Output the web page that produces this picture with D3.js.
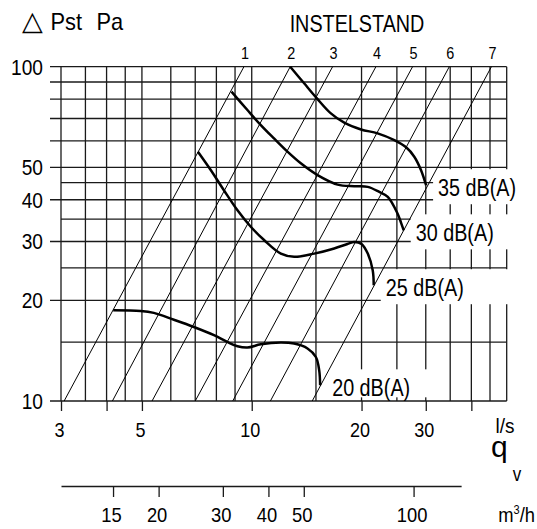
<!DOCTYPE html>
<html>
<head>
<meta charset="utf-8">
<script src="https://cdn.jsdelivr.net/npm/d3@7"></script>
<style>
  html, body { margin: 0; padding: 0; background: #fff; }
  svg { display: block; font-family: "Liberation Sans", Arial, sans-serif; }
</style>
</head>
<body>
<svg id="chart" width="537" height="529"></svg>
<script>
// grid values (l/s and Pa)
const qGrid = [3, 3.5, 4, 4.5, 5, 6, 7, 8, 9, 10, 15, 20, 25, 30, 35, 40, 45, 50];
const qTicks = [3, 4, 5, 10, 20, 30, 40];
const qLabels = [3, 5, 10, 20, 30];
const pGrid = [100, 90, 80, 70, 60, 50, 45, 40, 35, 30, 25, 20, 15, 10];
const pLong = [100, 90, 80, 70, 60, 50, 40, 30, 20, 10];
const pLabels = [100, 50, 40, 30, 20, 10];
const m3hTicks = [15, 20, 30, 40, 50, 100];
const m3hExtent = [10.8, 135];

// instelstand lines: flow at 10 Pa and at 100 Pa
const stand = ['1', '2', '3', '4', '5', '6', '7'];
const standQ10 = [3.06, 4.15, 5.33, 7.0, 8.87, 11.25, 14.65];
const standQ100 = [9.52, 12.75, 16.66, 21.9, 27.6, 34.8, 45.4];

// sound level curves, [l/s, Pa]
const curve35 = [[12.75, 100], [13.92, 89.2], [15.09, 80.4], [16.48, 72.5], [17.93, 68], [19.93, 64.9],
  [22.14, 63.2], [24.6, 60.3], [26.5, 57.4], [27.9, 53.8], [29.1, 49.1], [30.06, 44.2]];
const curve30 = [[8.8, 84.2], [9.73, 74.2], [10.59, 66.9], [11.51, 61.0], [12.53, 55.7], [13.63, 51.4],
  [15.15, 47.4], [17.2, 44.4], [19.1, 43.9], [20.8, 43.7], [22.37, 42.2], [23.6, 40.8], [25.1, 36.4],
  [25.7, 34.0], [26.1, 32.4]];
const curve25 = [[7.12, 55.7], [7.72, 49.1], [8.39, 42.7], [9.14, 37.2], [9.94, 33.2], [10.81, 30.3],
  [12.02, 27.6], [13.07, 27.0], [14.83, 27.6], [16.83, 28.6], [18.3, 29.5], [19.1, 29.9], [20.0, 29.5],
  [20.8, 27.6], [21.46, 24.6], [21.6, 22.2]];
const curve20 = [[4.17, 18.69], [4.96, 18.6], [5.39, 18.35], [6.12, 17.5], [6.94, 16.65], [7.88, 15.73],
  [8.57, 15.02], [9.14, 14.58], [9.73, 14.45], [10.59, 14.78], [12.02, 14.96], [13.07, 14.85],
  [14.22, 14.36], [14.99, 13.54], [15.31, 12.35], [15.4, 11.14]];
const levels = ['35 dB(A)', '30 dB(A)', '25 dB(A)', '20 dB(A)'];
const curves = [curve35, curve30, curve25, curve20];

const svg = d3.select('#chart');
const W = 537;

const x = d3.scaleLog().domain([3, 50]).range([61, 506.7]);
const y = d3.scaleLog().domain([10, 100]).range([401, 66.7]);
const xm = d3.scaleLog().domain(m3hExtent).range([x(m3hExtent[0] / 3.6), x(m3hExtent[1] / 3.6)]);

const ink = '#1a1a1a';

// condensed text helper
const label = (g, txt, px, py, size, sx, anchor) => g.append('text')
  .attr('transform', `translate(${px},${py}) scale(${sx},1)`)
  .attr('font-size', size)
  .attr('text-anchor', anchor || 'start')
  .attr('fill', '#000')
  .text(txt);

// grid
const grid = svg.append('g');
grid.selectAll('line.h')
  .data(pGrid)
  .enter().append('line')
  .attr('class', 'h')
  .attr('x1', d => pLong.includes(d) ? 50 : x(3))
  .attr('x2', x(50))
  .attr('y1', d => y(d))
  .attr('y2', d => y(d))
  .attr('stroke', ink)
  .attr('stroke-width', 1.3);

grid.selectAll('line.v')
  .data(qGrid)
  .enter().append('line')
  .attr('class', 'v')
  .attr('x1', d => x(d))
  .attr('x2', d => x(d))
  .attr('y1', y(100))
  .attr('y2', y(10))
  .attr('stroke', ink)
  .attr('stroke-width', 1.3);

// l/s axis
const xAxis = svg.append('g')
  .attr('transform', `translate(0,${y(10)})`)
  .call(d3.axisBottom(x)
    .tickValues(qTicks)
    .tickSize(10)
    .tickSizeOuter(0)
    .tickPadding(12)
    .tickFormat(d => qLabels.includes(d) ? d : ''));
xAxis.select('.domain').remove();
xAxis.selectAll('line').attr('stroke', ink).attr('stroke-width', 1.3);
xAxis.selectAll('text')
  .attr('font-size', 20)
  .attr('font-family', '"Liberation Sans", Arial, sans-serif')
  .attr('fill', '#000')
  .attr('transform', 'translate(-2,0) scale(0.9,1)');

// m3/h axis
const mAxis = svg.append('g')
  .attr('transform', 'translate(0,486)')
  .call(d3.axisBottom(xm)
    .tickValues(m3hTicks)
    .tickSize(11)
    .tickSizeOuter(0)
    .tickPadding(11)
    .tickFormat(d3.format('d')));
mAxis.select('.domain').attr('stroke', ink).attr('stroke-width', 1.3);
mAxis.selectAll('line').attr('stroke', ink).attr('stroke-width', 1.3);
mAxis.selectAll('text')
  .attr('font-size', 20)
  .attr('font-family', '"Liberation Sans", Arial, sans-serif')
  .attr('fill', '#000')
  .attr('transform', 'translate(-2,0) scale(0.92,1)');

// y labels
const yl = svg.append('g');
pLabels.forEach(p => label(yl, p, 43, y(p) + 8, 22, 0.87, 'end'));

// level label boxes + texts
const labG = svg.append('g');
curves.forEach((c, i) => {
  const end = c[c.length - 1];
  const tx = x(end[0]) + 12;
  const ty = y(end[1]) + 11;
  const box = labG.append('rect').attr('fill', '#fff');
  const t = label(labG, levels[i], tx, ty, 23, 0.86);
  const bb = t.node().getBBox();
  const right = i < 3 ? W : tx + bb.width * 0.86 + 22;
  box.attr('x', tx - 5)
    .attr('y', ty - 27)
    .attr('width', right - (tx - 5))
    .attr('height', i < 3 ? 35 : 28);
  t.raise();
});

// instelstand lines
svg.append('g').selectAll('line')
  .data(stand)
  .enter().append('line')
  .attr('x1', (d, i) => x(standQ10[i]))
  .attr('y1', y(10))
  .attr('x2', (d, i) => x(standQ100[i]))
  .attr('y2', y(100))
  .attr('stroke', '#000')
  .attr('stroke-width', 1);

const nums = svg.append('g');
stand.forEach((s, i) => label(nums, s, x(standQ100[i]) + 1, 58.5, 16, 0.9, 'middle'));
label(svg, 'INSTELSTAND', 357, 31.5, 23, 0.86, 'middle');

// curves
const line = d3.line()
  .x(d => x(d[0]))
  .y(d => y(d[1]))
  .curve(d3.curveCatmullRom.alpha(0.5));
svg.append('g').selectAll('path')
  .data(curves)
  .enter().append('path')
  .attr('d', line)
  .attr('fill', 'none')
  .attr('stroke', '#000')
  .attr('stroke-width', 2.5)
  .attr('stroke-linejoin', 'round');

// titles
svg.append('text')
  .attr('x', 22).attr('y', 30)
  .attr('font-family', '"DejaVu Sans", sans-serif')
  .attr('font-size', 27)
  .attr('font-weight', 200)
  .text('△');
label(svg, 'Pst', 50.5, 30, 23, 0.95);
label(svg, 'Pa', 96.5, 30, 23, 0.95);

label(svg, 'l/s', 505, 433, 20, 0.95, 'middle');
label(svg, 'q', 491, 457, 30, 1);
label(svg, 'v', 517, 480.5, 20, 0.85, 'middle');
const mh = svg.append('text')
  .attr('transform', 'translate(535,521.5) scale(0.92,1)')
  .attr('font-size', 20)
  .attr('text-anchor', 'end');
mh.append('tspan').text('m');
mh.append('tspan').attr('font-size', 12).attr('dy', -8).text('3');
mh.append('tspan').attr('dy', 8).text('/h');
</script>
</body>
</html>
